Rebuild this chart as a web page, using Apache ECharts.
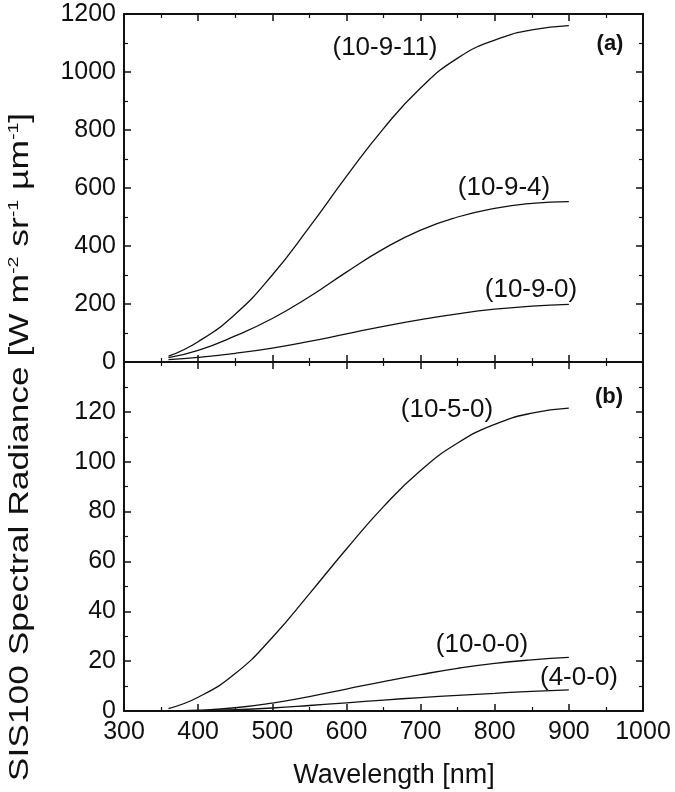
<!DOCTYPE html>
<html>
<head>
<meta charset="utf-8">
<script src="https://cdn.jsdelivr.net/npm/echarts@6/dist/echarts.min.js"></script>
<style>
html,body{margin:0;padding:0;background:#fff;}
#c{width:675px;height:792px;}
</style>
</head>
<body>
<div id="c"></div>
<script>
// ---- data ----
const wavelengths = [360, 400, 450, 500, 550, 600, 650, 700, 750, 800, 850, 900];
// panel (a)
const rad_10_9_11 = [20, 70, 165, 300, 465, 640, 805, 945, 1048, 1110, 1145, 1160];
const rad_10_9_4  = [15, 40, 90, 150, 225, 310, 390, 455, 500, 530, 547, 553];
const rad_10_9_0  = [8, 16, 30, 48, 71, 97, 123, 146, 166, 182, 193, 199];
// panel (b)
const rad_10_5_0  = [1, 5.5, 15, 29.5, 47, 65, 82, 96.5, 107.5, 115, 119.5, 121.5];
const rad_10_0_0  = [0, 0.3, 1.3, 3.2, 5.8, 8.8, 11.8, 14.6, 17.1, 19.1, 20.5, 21.5];
const rad_4_0_0   = [0, 0.1, 0.5, 1.2, 2.2, 3.3, 4.4, 5.4, 6.3, 7.1, 7.9, 8.5];

const xTicks = {min: 300, max: 1000, interval: 100};
const yTicksA = {min: 0, max: 1200, interval: 200};
const yTicksB = {min: 0, max: 140, interval: 20};

const seriesLabelsA = ['(10-9-11)', '(10-9-4)', '(10-9-0)'];
const seriesLabelsB = ['(10-5-0)', '(10-0-0)', '(4-0-0)'];

// ---- chart ----
const FONT = '"Liberation Sans", Arial, sans-serif';
const INK = '#111';
const chart = echarts.init(document.getElementById('c'), null, {renderer: 'canvas'});

function pairs(ys) { return wavelengths.map((x, i) => [x, ys[i]]); }

function xAxis(gridIndex, position, showLabel) {
  return {
    type: 'value', gridIndex, position,
    min: xTicks.min, max: xTicks.max, interval: xTicks.interval,
    axisLine: {show: true, onZero: false, lineStyle: {color: INK, width: 2}},
    axisTick: {show: true, inside: true, length: 7, lineStyle: {color: INK, width: 1.5}},
    minorTick: {show: true, splitNumber: 2, length: 4, lineStyle: {color: INK, width: 1.2}},
    axisLabel: {show: showLabel, color: INK, fontFamily: FONT, fontSize: 25, margin: 9,
                formatter: v => String(v)},
    splitLine: {show: false}
  };
}
function yAxis(gridIndex, position, t, showLabel, hideTop) {
  return {
    type: 'value', gridIndex, position,
    min: t.min, max: t.max, interval: t.interval,
    axisLine: {show: true, onZero: false, lineStyle: {color: INK, width: 2}},
    axisTick: {show: true, inside: true, length: 7, lineStyle: {color: INK, width: 1.5}},
    minorTick: {show: true, splitNumber: 2, length: 4, lineStyle: {color: INK, width: 1.2}},
    axisLabel: {
      show: showLabel, color: INK, fontFamily: FONT, fontSize: 25, margin: 8,
      formatter: v => (hideTop && v === t.max) ? '' : String(v)
    },
    splitLine: {show: false}
  };
}
function line(name, ys, xi, yi) {
  return {
    name, type: 'line', xAxisIndex: xi, yAxisIndex: yi,
    data: pairs(ys), smooth: true, showSymbol: false, symbol: 'none',
    lineStyle: {color: INK, width: 1.3}, silent: true, animation: false
  };
}
function label(text, x, y, size, bold) {
  return {
    type: 'text', x, y, silent: true,
    style: {text, fill: INK, font: (bold ? 'bold ' : '') + size + 'px ' + FONT,
            align: 'center', verticalAlign: 'middle'}
  };
}

const option = {
  backgroundColor: '#fff',
  animation: false,
  grid: [
    {left: 124, top: 14, width: 519, height: 348},
    {left: 124, top: 362, width: 519, height: 349}
  ],
  xAxis: [
    xAxis(0, 'bottom', false),
    xAxis(0, 'top', false),
    xAxis(1, 'bottom', true),
    xAxis(1, 'top', false)
  ],
  yAxis: [
    yAxis(0, 'left', yTicksA, true, false),
    yAxis(0, 'right', yTicksA, false, false),
    yAxis(1, 'left', yTicksB, true, true),
    yAxis(1, 'right', yTicksB, false, false)
  ],
  series: [
    line(seriesLabelsA[0], rad_10_9_11, 0, 0),
    line(seriesLabelsA[1], rad_10_9_4, 0, 0),
    line(seriesLabelsA[2], rad_10_9_0, 0, 0),
    line(seriesLabelsB[0], rad_10_5_0, 2, 2),
    line(seriesLabelsB[1], rad_10_0_0, 2, 2),
    line(seriesLabelsB[2], rad_4_0_0, 2, 2)
  ],
  graphic: [
    label(seriesLabelsA[0], 385, 48, 26, false),
    label(seriesLabelsA[1], 504, 188, 26, false),
    label(seriesLabelsA[2], 531, 290, 26, false),
    label('(a)', 610, 44, 22, true),
    label(seriesLabelsB[0], 447, 410, 26, false),
    label(seriesLabelsB[1], 482, 645, 26, false),
    label(seriesLabelsB[2], 579, 678, 26, false),
    label('(b)', 609, 397, 22, true),
    label('Wavelength [nm]', 394, 776, 27, false),
    {
      type: 'text', x: 21, y: 447, rotation: Math.PI / 2, scaleX: 1.31, scaleY: 1, silent: true,
      style: {
        text: 'SIS100 Spectral Radiance [W m{sup|-2} sr{sup|-1} \u00B5m{sup|-1}]',
        fill: INK, font: '27px ' + FONT, align: 'center', verticalAlign: 'middle',
        rich: {
          sup: {fontSize: 15, fontFamily: FONT, fill: INK, verticalAlign: 'top', lineHeight: 30}
        },
        lineHeight: 30
      }
    }
  ]
};
chart.setOption(option);
</script>
</body>
</html>
